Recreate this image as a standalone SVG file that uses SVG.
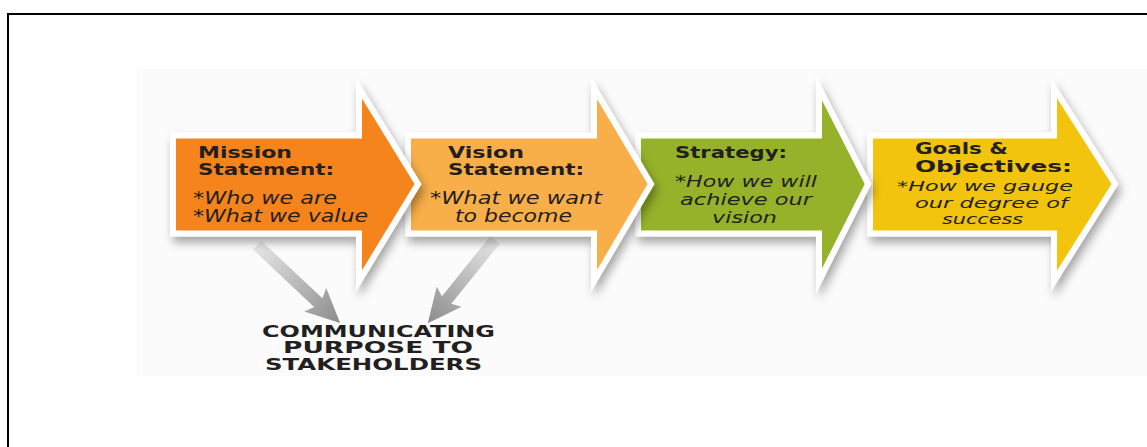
<svg xmlns="http://www.w3.org/2000/svg" width="1147" height="447" viewBox="0 0 1147 447">
<style>
.arrow{stroke:#ffffff;stroke-width:6;stroke-linejoin:miter;stroke-miterlimit:6}
.hd{font-family:"DejaVu Sans",sans-serif;font-weight:bold;font-size:15px;fill:#231f20}
.it{font-family:"DejaVu Sans",sans-serif;font-style:italic;font-size:17px;fill:#231f20}
.it3{font-family:"DejaVu Sans",sans-serif;font-style:italic;font-size:15.5px;fill:#231f20}
.it2{font-family:"DejaVu Sans",sans-serif;font-style:italic;font-size:14px;fill:#231f20}
.cm{font-family:"DejaVu Sans",sans-serif;font-weight:bold;font-size:15px;fill:#231f20}
</style>
<defs>
<filter id="sh" x="-20%" y="-20%" width="140%" height="150%">
<feDropShadow dx="3" dy="6" stdDeviation="5" flood-color="#000" flood-opacity="0.35"/>
</filter>
<linearGradient id="gg" x1="0" y1="0" x2="1" y2="0">
<stop offset="0" stop-color="#e6e6e6"/>
<stop offset="1" stop-color="#8c8c8c"/>
</linearGradient>
</defs>
<rect x="0" y="0" width="1147" height="447" fill="#ffffff"/>
<path d="M8,447 V14 H1147" fill="none" stroke="#000" stroke-width="2"/>
<rect x="137" y="69" width="1010" height="307" fill="#fbfbfb"/>

<g id="connectors">
<g transform="translate(257,245) rotate(43.2)">
<polygon points="0,-6 84,-6 80,-16 114,0 80,16 84,6 0,6" fill="url(#gg)"/>
</g>
<g transform="translate(495,240) rotate(128.9)">
<polygon points="0,-6 77,-6 73,-16 107,0 73,16 77,6 0,6" fill="url(#gg)"/>
</g>
</g>

<g id="goals">
<polygon class="arrow" filter="url(#sh)" fill="#f2c40f" points="870,135.5 1054,135.5 1054,88 1115,184 1054,281 1054,233.5 870,233.5"/>
<text class="hd" x="915" y="154" textLength="93" lengthAdjust="spacingAndGlyphs">Goals &amp;</text>
<text class="hd" x="915" y="172" textLength="157" lengthAdjust="spacingAndGlyphs">Objectives:</text>
<text class="it2" x="897" y="191" textLength="176" lengthAdjust="spacingAndGlyphs">*How we gauge</text>
<text class="it2" x="915" y="207.5" textLength="153" lengthAdjust="spacingAndGlyphs">our degree of</text>
<text class="it2" x="942" y="224" textLength="81" lengthAdjust="spacingAndGlyphs">success</text>
</g>

<g id="strategy">
<polygon class="arrow" filter="url(#sh)" fill="#95b22c" points="638,135.5 819,135.5 819,88 868,184 819,281 819,233.5 638,233.5"/>
<text class="hd" x="675" y="158" textLength="112" lengthAdjust="spacingAndGlyphs">Strategy:</text>
<text class="it3" x="675" y="186.5" textLength="142" lengthAdjust="spacingAndGlyphs">*How we will</text>
<text class="it3" x="680" y="204.5" textLength="132" lengthAdjust="spacingAndGlyphs">achieve our</text>
<text class="it3" x="712" y="222.5" textLength="65" lengthAdjust="spacingAndGlyphs">vision</text>
</g>

<g id="vision">
<polygon class="arrow" filter="url(#sh)" fill="#f8ae4a" points="408,135.5 594,135.5 594,88 651,184 594,281 594,233.5 408,233.5"/>
<text class="hd" x="448" y="158" textLength="76" lengthAdjust="spacingAndGlyphs">Vision</text>
<text class="hd" x="448" y="175" textLength="136" lengthAdjust="spacingAndGlyphs">Statement:</text>
<text class="it" x="430" y="204" textLength="172" lengthAdjust="spacingAndGlyphs">*What we want</text>
<text class="it" x="455" y="222" textLength="117" lengthAdjust="spacingAndGlyphs">to become</text>
</g>

<g id="mission">
<polygon class="arrow" filter="url(#sh)" fill="#f5841f" points="173,135.5 359,135.5 359,88 418,184 359,281 359,233.5 173,233.5"/>
<text class="hd" x="198" y="158" textLength="94" lengthAdjust="spacingAndGlyphs">Mission</text>
<text class="hd" x="198" y="175" textLength="136" lengthAdjust="spacingAndGlyphs">Statement:</text>
<text class="it" x="193" y="204" textLength="144" lengthAdjust="spacingAndGlyphs">*Who we are</text>
<text class="it" x="193" y="222" textLength="175" lengthAdjust="spacingAndGlyphs">*What we value</text>
</g>

<g id="communicating">
<text class="cm" x="262" y="337" textLength="233" lengthAdjust="spacingAndGlyphs">COMMUNICATING</text>
<text class="cm" x="283" y="353" textLength="190" lengthAdjust="spacingAndGlyphs">PURPOSE TO</text>
<text class="cm" x="265" y="370" textLength="217" lengthAdjust="spacingAndGlyphs">STAKEHOLDERS</text>
</g>
</svg>
